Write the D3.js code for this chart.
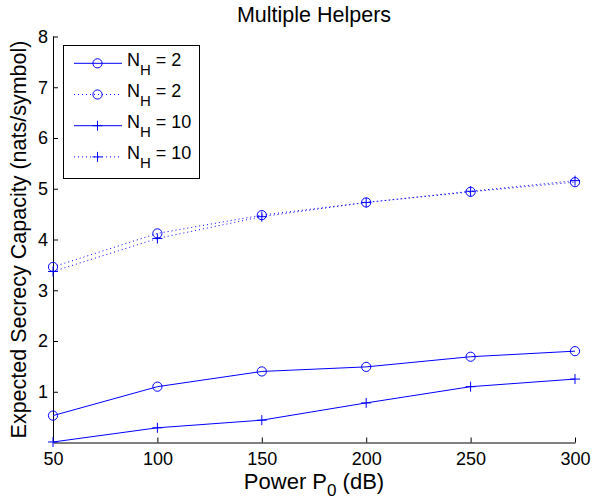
<!DOCTYPE html>
<html><head><meta charset="utf-8">
<script src="https://cdn.jsdelivr.net/npm/d3@7"></script>
<style>body{margin:0;background:#fff}svg{display:block}text{font-family:"Liberation Sans",Arial,sans-serif}</style>
</head><body><svg id="c" width="592" height="503"></svg>
<script>
const xValues = [50, 100, 150, 200, 250, 300];
const solidNH2 = [0.53, 1.10, 1.40, 1.49, 1.69, 1.80];
const dottedNH2 = [3.46, 4.12, 4.48, 4.73, 4.94, 5.13];
const solidNH10 = [0.01, 0.29, 0.44, 0.78, 1.10, 1.25];
const dottedNH10 = [3.37, 4.02, 4.45, 4.73, 4.95, 5.16];
const xTicks = [50, 100, 150, 200, 250, 300];
const yTicks = [1, 2, 3, 4, 5, 6, 7, 8];
const legendLabels = ["2", "2", "10", "10"];

const series = [
  {vals: solidNH2, dash: null, marker: "circle", nh: legendLabels[0]},
  {vals: dottedNH2, dash: "1,3", marker: "circle", nh: legendLabels[1]},
  {vals: solidNH10, dash: null, marker: "plus", nh: legendLabels[2]},
  {vals: dottedNH10, dash: "1,3", marker: "plus", nh: legendLabels[3]}
];

const svg = d3.select("#c");
const L = 53, R = 575, T = 36.5, B = 442.5;
const x = d3.scaleLinear().domain([50, 300]).range([L, R]);
const y = d3.scaleLinear().domain([0, 8]).range([B, T]);
const blue = "#0000ff";
const FONT = '"Liberation Sans",Arial,sans-serif';

// axes
const xAxis = d3.axisBottom(x).tickValues(xTicks).tickSize(-5).tickPadding(10).tickSizeOuter(0);
const gx = svg.append("g").attr("transform", `translate(0,${B})`).call(xAxis);
const yAxis = d3.axisLeft(y).tickValues(yTicks).tickSize(-5).tickPadding(5).tickSizeOuter(0);
const gy = svg.append("g").attr("transform", `translate(${L},0)`).call(yAxis);
[gx, gy].forEach(g => {
  g.select(".domain").attr("stroke", "#000").attr("stroke-width", 1);
  g.selectAll(".tick line").attr("stroke", "#000");
  g.selectAll("text").attr("fill", "#000").style("font-size", "18px").style("font-family", FONT);
});
gy.select(".domain").attr("d", `M0.5,${B}V${T}`);

const line = d3.line().x((d, i) => x(xValues[i])).y(d => y(d));

function drawMarker(g, type, cx, cy) {
  if (type === "circle") {
    g.append("circle").attr("cx", cx).attr("cy", cy).attr("r", 4.6)
      .attr("fill", "none").attr("stroke", blue).attr("stroke-width", 1);
  } else {
    g.append("path").attr("d", `M${cx - 5},${cy}H${cx + 5}M${cx},${cy - 5}V${cy + 5}`)
      .attr("stroke", blue).attr("stroke-width", 1).attr("fill", "none");
  }
}

series.forEach(s => {
  svg.append("path").datum(s.vals).attr("d", line).attr("fill", "none")
    .attr("stroke", blue).attr("stroke-width", 1)
    .attr("stroke-dasharray", s.dash);
  const g = svg.append("g");
  s.vals.forEach((v, i) => drawMarker(g, s.marker, x(xValues[i]), y(v)));
});

// title & labels
svg.append("text").attr("x", (L + R) / 2).attr("y", 22).attr("text-anchor", "middle")
  .style("font-size", "21.5px").text("Multiple Helpers");
const xl = svg.append("text").attr("x", (L + R) / 2).attr("y", 489).attr("text-anchor", "middle").style("font-size", "22px");
xl.append("tspan").text("Power P");
xl.append("tspan").attr("dy", 7).style("font-size", "17px").text("0");
xl.append("tspan").attr("dy", -7).text(" (dB)");
svg.append("text").attr("transform", `translate(26,${(T + B) / 2}) rotate(-90)`).attr("text-anchor", "middle")
  .style("font-size", "21.5px").text("Expected Secrecy Capacity (nats/symbol)");

// legend
const lg = svg.append("g");
lg.append("rect").attr("x", 63.5).attr("y", 45.5).attr("width", 136).attr("height", 133)
  .attr("fill", "#fff").attr("stroke", "#000").attr("stroke-width", 1);
const rowsY = [63.3, 94.5, 125.7, 156.9];
series.forEach((s, i) => {
  const yy = rowsY[i];
  lg.append("path").attr("d", `M74,${yy}H122`).attr("stroke", blue).attr("stroke-width", 1)
    .attr("stroke-dasharray", s.dash);
  drawMarker(lg, s.marker, 97.5, yy);
  const t = lg.append("text").attr("x", 127).attr("y", yy + 2.5).style("font-size", "18px");
  t.append("tspan").text("N");
  t.append("tspan").attr("dy", 9).style("font-size", "15px").text("H");
  t.append("tspan").attr("dy", -9).text(" = " + s.nh);
});
</script></body></html>
